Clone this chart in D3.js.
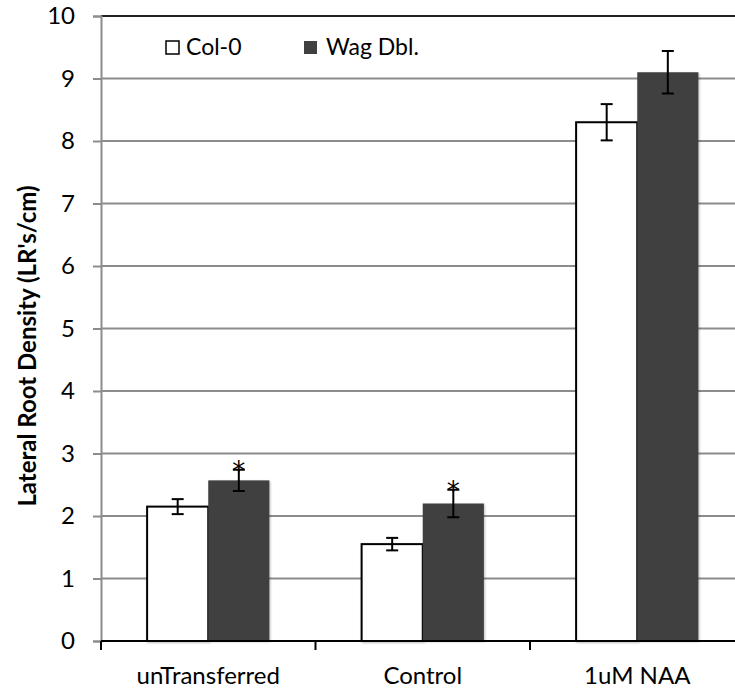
<!DOCTYPE html>
<html>
<head>
<meta charset="utf-8">
<script src="https://cdn.jsdelivr.net/npm/d3@7"></script>
<style>
  body { margin: 0; background: #fff; }
  text { font-family: Lato, "Open Sans", sans-serif; fill: #000; }
</style>
</head>
<body>
<div id="graph"></div>
<script>
var w = 735, h = 690;

// data
var categories = ["unTransferred", "Control", "1uM NAA"];
var series = ["Col-0", "Wag Dbl."];
var colValues = [2.15, 1.55, 8.30];
var colErrors = [0.12, 0.10, 0.29];
var wagValues = [2.57, 2.20, 9.10];
var wagErrors = [0.17, 0.22, 0.34];
var wagStars = [true, true, false];
var yTicks = [0, 1, 2, 3, 4, 5, 6, 7, 8, 9, 10];

var pLeft = 101, pRight = 744.5, pTop = 16, pBottom = 641;

var svg = d3.select("#graph")
	.append("svg")
	.attr("width", w)
	.attr("height", h);

var x = d3.scaleBand()
	.domain(categories)
	.range([pLeft, pRight])
	.paddingInner(0.43)
	.paddingOuter(0.215);

var xs = d3.scaleBand()
	.domain(series)
	.range([0, x.bandwidth()]);

var y = d3.scaleLinear()
	.domain([0, 10])
	.range([pBottom, pTop]);

var colors = { "Col-0": "#ffffff", "Wag Dbl.": "#404040" };

// grid lines
svg.append("g")
	.selectAll("line")
	.data(yTicks.filter(function(d) { return d > 0; }))
	.enter().append("line")
	.attr("x1", pLeft)
	.attr("x2", w)
	.attr("y1", function(d) { return y(d); })
	.attr("y2", function(d) { return y(d); })
	.attr("stroke", function(d) { return d == 10 ? "#222" : "#8c8c8c"; })
	.attr("stroke-width", 2);

// y axis
var yAxis = svg.append("g")
	.attr("transform", "translate(" + pLeft + ",0)")
	.call(d3.axisLeft(y).tickValues(yTicks).tickSize(8).tickPadding(18));
yAxis.selectAll("path, line").attr("stroke", "#8c8c8c").attr("stroke-width", 2);
yAxis.selectAll("text").attr("font-size", 24).attr("fill", "#000")
	.style("font-family", "Lato, sans-serif");

// bars
var rows = categories.map(function(c, i) {
	return [
		{ cat: c, s: "Col-0", v: colValues[i], e: colErrors[i], star: false },
		{ cat: c, s: "Wag Dbl.", v: wagValues[i], e: wagErrors[i], star: wagStars[i] }
	];
});
var flat = [].concat.apply([], rows);

var defs = svg.append("defs");
var f = defs.append("filter").attr("id", "sh").attr("x", "-10%").attr("y", "-10%")
	.attr("width", "130%").attr("height", "130%");
f.append("feDropShadow").attr("dx", 1).attr("dy", 1).attr("stdDeviation", 1.2)
	.attr("flood-color", "#000").attr("flood-opacity", 0.25);

svg.append("g")
	.selectAll("rect")
	.data(flat)
	.enter().append("rect")
	.attr("x", function(d) { return x(d.cat) + xs(d.s); })
	.attr("y", function(d) { return y(d.v); })
	.attr("width", xs.bandwidth())
	.attr("height", function(d) { return y(0) - y(d.v); })
	.attr("fill", function(d) { return colors[d.s]; })
	.attr("stroke", function(d) { return d.s == "Col-0" ? "#000" : "none"; })
	.attr("stroke-width", 2)
	.attr("filter", "url(#sh)");

// error bars
var eb = svg.append("g").selectAll("g")
	.data(flat)
	.enter().append("g")
	.attr("transform", function(d) {
		return "translate(" + (x(d.cat) + xs(d.s) + xs.bandwidth() / 2) + ",0)";
	});
eb.append("line")
	.attr("y1", function(d) { return y(d.v + d.e); })
	.attr("y2", function(d) { return y(d.v - d.e); })
	.attr("stroke", "#000").attr("stroke-width", 2);
eb.append("line")
	.attr("x1", -6).attr("x2", 6)
	.attr("y1", function(d) { return y(d.v + d.e); })
	.attr("y2", function(d) { return y(d.v + d.e); })
	.attr("stroke", "#000").attr("stroke-width", 2);
eb.append("line")
	.attr("x1", -6).attr("x2", 6)
	.attr("y1", function(d) { return y(d.v - d.e); })
	.attr("y2", function(d) { return y(d.v - d.e); })
	.attr("stroke", "#000").attr("stroke-width", 2);
eb.filter(function(d) { return d.star; })
	.append("text")
	.text("*")
	.attr("text-anchor", "middle")
	.attr("font-size", 26)
	.style("font-family", "'DejaVu Sans', sans-serif")
	.attr("y", function(d) { return y(d.v + d.e) + 10; });

// x axis
var xAxis = svg.append("g")
	.attr("transform", "translate(0," + pBottom + ")");
xAxis.append("line")
	.attr("x1", pLeft).attr("x2", w)
	.attr("stroke", "#000").attr("stroke-width", 2);
var bounds = categories.map(function(c) { return x(c) - x.step() * x.paddingInner() / 2; });
xAxis.selectAll(".tk")
	.data(bounds)
	.enter().append("line")
	.attr("x1", function(d) { return d; })
	.attr("x2", function(d) { return d; })
	.attr("y1", 0).attr("y2", 9)
	.attr("stroke", "#000").attr("stroke-width", 2);
xAxis.selectAll(".lb")
	.data(categories)
	.enter().append("text")
	.text(function(d) { return d; })
	.attr("x", function(d) { return x(d) + x.bandwidth() / 2; })
	.attr("y", 43)
	.attr("text-anchor", "middle")
	.attr("font-size", 24);

// y title
svg.append("text")
	.text("Lateral Root Density (LR's/cm)")
	.attr("transform", "translate(36,346) rotate(-90)")
	.attr("text-anchor", "middle")
	.attr("font-weight", "bold")
	.attr("font-size", 24);

// legend
var lg = svg.append("g").selectAll("g")
	.data(series)
	.enter().append("g")
	.attr("transform", function(d, i) { return "translate(" + (166 + i * 138) + ",41)"; });
lg.append("rect")
	.attr("width", 13).attr("height", 13)
	.attr("fill", function(d) { return colors[d]; })
	.attr("stroke", function(d) { return d == "Col-0" ? "#000" : "none"; })
	.attr("stroke-width", 1.5);
lg.append("text")
	.text(function(d) { return d; })
	.attr("x", function(d, i) { return i == 0 ? 20 : 22; })
	.attr("y", 14)
	.attr("font-size", 23);
</script>
</body>
</html>
